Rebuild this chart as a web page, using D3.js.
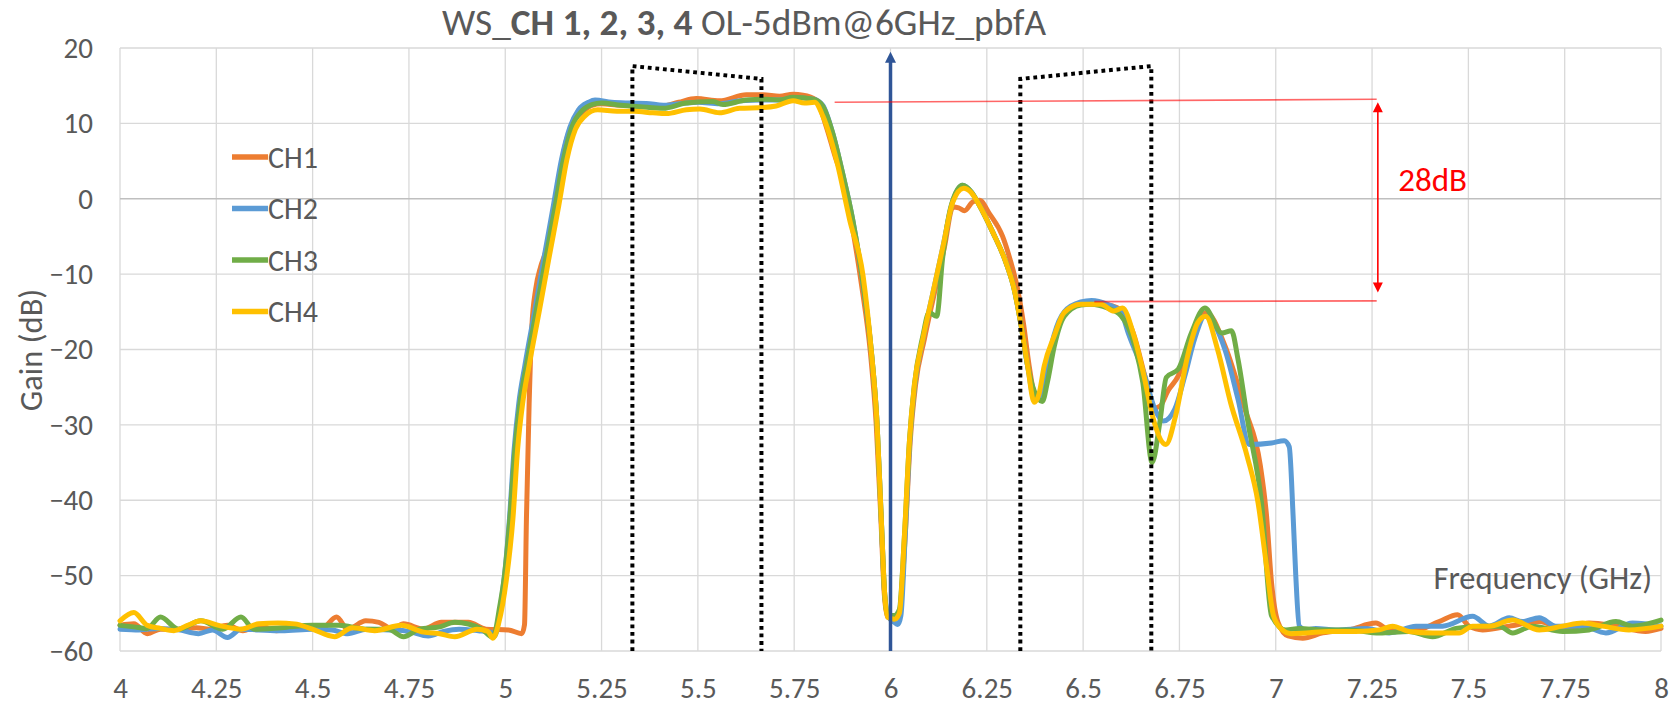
<!DOCTYPE html>
<html>
<head>
<meta charset="utf-8">
<script src="https://cdn.jsdelivr.net/npm/d3@7"></script>
<style>
  body { margin: 0; background: #fff; }
  svg { display: block; font-family: Carlito, Calibri, Lato, sans-serif; }
</style>
</head>
<body>
<svg id="chart"></svg>
<script>
// measured curves, [frequency GHz, gain dB]
var ch1 = [[4.0,-56.6],[4.036,-56.4],[4.071,-57.7],[4.105,-57.1],[4.152,-57.1],[4.198,-56.9],[4.233,-57.1],[4.279,-56.6],[4.319,-57.3],[4.36,-56.6],[4.406,-57.3],[4.476,-56.9],[4.522,-57.1],[4.562,-55.5],[4.591,-57.1],[4.638,-56.0],[4.672,-56.2],[4.707,-57.1],[4.736,-56.4],[4.788,-57.1],[4.834,-56.2],[4.904,-56.2],[4.95,-57.1],[5.008,-57.2],[5.043,-57.7],[5.05,-56.5],[5.055,-42.4],[5.062,-27.2],[5.069,-17],[5.079,-12],[5.092,-9],[5.105,-7],[5.122,-2.5],[5.14,3],[5.16,8],[5.18,10.5],[5.2,11.5],[5.225,12.4],[5.25,12.6],[5.3,12.4],[5.35,12.4],[5.4,12.2],[5.45,12.8],[5.496,13.3],[5.556,13.0],[5.626,13.8],[5.669,13.8],[5.712,13.6],[5.747,13.85],[5.773,13.75],[5.807,13.1],[5.833,9.6],[5.86,5],[5.876,2.8],[5.9,-3.5],[5.925,-11.5],[5.948,-20.5],[5.963,-30],[5.975,-42.4],[5.984,-52.5],[5.993,-55.5],[6.01,-55.8],[6.023,-55],[6.038,-44.9],[6.051,-32.3],[6.065,-24.7],[6.088,-18.6],[6.114,-12.5],[6.14,-6.4],[6.162,-1.1],[6.177,-1.2],[6.192,-1.6],[6.214,-0.4],[6.231,-0.2],[6.257,-2.0],[6.291,-5.0],[6.31,-8],[6.33,-12],[6.345,-16.5],[6.36,-22.2],[6.378,-26.5],[6.39,-26.2],[6.41,-22],[6.428,-18],[6.455,-15],[6.5,-13.9],[6.55,-14.0],[6.598,-14.7],[6.63,-17.8],[6.66,-23.5],[6.682,-27.8],[6.7,-27.5],[6.72,-25.5],[6.747,-23.5],[6.78,-18.7],[6.82,-15.1],[6.868,-19.5],[6.92,-27.9],[6.96,-35.4],[6.976,-42],[6.989,-50.9],[7.006,-56.2],[7.032,-58],[7.07,-58.3],[7.122,-57.6],[7.19,-57.2],[7.26,-56.3],[7.295,-57.2],[7.364,-57.2],[7.424,-56.1],[7.472,-55.2],[7.502,-56.7],[7.537,-57.2],[7.606,-56.7],[7.684,-56.1],[7.753,-57.2],[7.813,-56.3],[7.883,-56.7],[7.96,-57.4],[8.0,-57]];

var ch2 = [[4.0,-57.1],[4.05,-57.2],[4.1,-57.0],[4.152,-57.2],[4.204,-57.7],[4.24,-57.2],[4.279,-58.2],[4.314,-57.1],[4.36,-57.2],[4.42,-57.3],[4.5,-57.1],[4.55,-57.2],[4.591,-57.7],[4.64,-57.1],[4.7,-57.2],[4.75,-57.4],[4.8,-58.0],[4.84,-57.4],[4.88,-57.1],[4.93,-57.3],[4.962,-57.5],[4.973,-58.0],[4.988,-54],[4.998,-50],[5.011,-42.4],[5.023,-33.3],[5.035,-27.2],[5.051,-22.1],[5.076,-15],[5.1,-8],[5.125,-0.9],[5.146,5.2],[5.168,9.5],[5.19,11.8],[5.216,12.8],[5.233,13.1],[5.276,12.8],[5.323,12.7],[5.366,12.65],[5.41,12.4],[5.47,12.7],[5.5,12.8],[5.556,12.6],[5.61,13.0],[5.669,13.1],[5.712,13.1],[5.75,13.4],[5.8,13.2],[5.824,12.4],[5.85,8.7],[5.876,3.3],[5.902,-2.8],[5.928,-11],[5.95,-20.1],[5.965,-29.7],[5.976,-42.4],[5.985,-52.5],[5.995,-55.5],[6.01,-56.2],[6.019,-56.5],[6.027,-55.3],[6.038,-44.9],[6.05,-32.3],[6.063,-24.7],[6.085,-18.4],[6.11,-12.5],[6.136,-6.4],[6.16,-0.6],[6.187,1.8],[6.21,0.9],[6.231,-0.9],[6.265,-4.4],[6.3,-8.5],[6.321,-12],[6.338,-16.5],[6.356,-22.2],[6.373,-26.5],[6.385,-26.4],[6.407,-22],[6.425,-18],[6.451,-15],[6.494,-13.7],[6.522,-13.5],[6.563,-14.0],[6.598,-15],[6.617,-17.8],[6.66,-23.5],[6.686,-27.9],[6.708,-29.5],[6.738,-27.9],[6.764,-23.5],[6.79,-18.5],[6.816,-15.6],[6.868,-20],[6.902,-26.6],[6.931,-32.6],[6.989,-32.4],[7.022,-32.1],[7.035,-32.9],[7.045,-42],[7.052,-50],[7.061,-56.7],[7.078,-57.2],[7.104,-57.0],[7.156,-57.2],[7.234,-57],[7.295,-57.6],[7.364,-56.7],[7.433,-56.7],[7.511,-55.4],[7.554,-56.7],[7.606,-55.6],[7.64,-56.1],[7.684,-55.6],[7.727,-56.7],[7.796,-56.7],[7.857,-57.6],[7.926,-56.3],[8.0,-56.7]];

var ch3 = [[4.0,-56.6],[4.036,-56.8],[4.07,-57.0],[4.105,-55.5],[4.152,-57.1],[4.21,-56.0],[4.267,-57.1],[4.314,-55.5],[4.348,-57.1],[4.42,-56.9],[4.499,-56.6],[4.568,-56.6],[4.638,-57.1],[4.696,-57.1],[4.736,-58.1],[4.777,-57.1],[4.83,-56.8],[4.869,-56.2],[4.939,-57.1],[4.968,-58.2],[4.986,-54],[4.998,-50],[5.012,-42.4],[5.025,-33.3],[5.038,-27.2],[5.055,-22.1],[5.08,-15],[5.105,-8],[5.13,-0.9],[5.151,5.2],[5.173,9.5],[5.2,11.7],[5.225,12.5],[5.25,12.7],[5.3,12.4],[5.35,12.2],[5.41,12.0],[5.47,12.7],[5.539,12.9],[5.565,12.5],[5.626,13.1],[5.678,13.2],[5.712,13.1],[5.747,13.45],[5.8,13.2],[5.824,12.3],[5.85,8.7],[5.876,3.3],[5.902,-2.8],[5.928,-11],[5.95,-20.1],[5.965,-29.7],[5.976,-42.4],[5.985,-52.5],[5.993,-55.2],[6.01,-55.3],[6.023,-54.5],[6.036,-44.9],[6.049,-32.3],[6.062,-24.7],[6.084,-18.2],[6.1,-15.1],[6.12,-15.6],[6.135,-8],[6.157,-1.0],[6.187,1.8],[6.21,0.9],[6.231,-0.9],[6.265,-4.4],[6.3,-8.5],[6.321,-12],[6.338,-16.5],[6.356,-22.2],[6.373,-25.5],[6.394,-26.9],[6.407,-24.4],[6.425,-19.6],[6.451,-15.6],[6.494,-14.1],[6.52,-14.0],[6.563,-14.5],[6.598,-15.5],[6.634,-19.5],[6.655,-24.4],[6.679,-35],[6.699,-29.7],[6.716,-23.7],[6.747,-22.6],[6.781,-17.8],[6.816,-14.5],[6.86,-17.8],[6.885,-17.5],[6.902,-21.3],[6.928,-29.7],[6.963,-40.3],[6.989,-55.3],[7.026,-57.2],[7.061,-57],[7.122,-57.2],[7.19,-57.2],[7.269,-57.6],[7.346,-57.4],[7.407,-58.1],[7.468,-57],[7.537,-56.7],[7.58,-56.7],[7.615,-57.6],[7.666,-56.7],[7.745,-57.4],[7.813,-57.2],[7.883,-56.1],[7.926,-56.7],[8.0,-55.9]];

var ch4 = [[4.0,-56.0],[4.036,-54.9],[4.071,-56.6],[4.105,-57.0],[4.14,-57.3],[4.175,-56.6],[4.21,-56.0],[4.256,-56.6],[4.314,-57.1],[4.36,-56.4],[4.41,-56.3],[4.453,-56.4],[4.499,-57.1],[4.557,-58.1],[4.603,-56.9],[4.661,-57.3],[4.73,-56.6],[4.788,-57.5],[4.83,-57.7],[4.869,-58.1],[4.927,-57.1],[4.955,-57.4],[4.968,-58.3],[4.983,-56.3],[5.003,-50.5],[5.02,-42.4],[5.032,-33.3],[5.045,-27.2],[5.062,-22.1],[5.088,-15],[5.113,-8],[5.139,-0.9],[5.16,5.2],[5.182,9.2],[5.207,11.0],[5.24,11.8],[5.29,11.6],[5.335,11.6],[5.383,11.4],[5.418,11.3],[5.47,11.8],[5.505,11.9],[5.556,11.4],[5.608,12.0],[5.669,12.1],[5.703,12.3],[5.747,13.0],[5.777,12.7],[5.803,12.8],[5.825,10.9],[5.86,5.1],[5.894,-2.8],[5.929,-10.3],[5.95,-20.1],[5.965,-29.7],[5.976,-42.4],[5.985,-52.5],[5.993,-55.5],[6.01,-55.8],[6.023,-55.0],[6.036,-44.9],[6.049,-32.3],[6.062,-24.7],[6.084,-18.6],[6.11,-12.5],[6.136,-6.4],[6.162,-0.4],[6.19,1.4],[6.21,0.8],[6.231,-0.9],[6.265,-4.4],[6.3,-8.5],[6.321,-12],[6.338,-16.5],[6.356,-22.2],[6.373,-27.0],[6.385,-26.0],[6.399,-22.2],[6.425,-18.2],[6.451,-15.1],[6.494,-14.0],[6.546,-14.0],[6.58,-14.9],[6.602,-14.5],[6.632,-18.2],[6.658,-23.5],[6.68,-28.8],[6.715,-32.6],[6.74,-28.8],[6.771,-20.9],[6.797,-16.5],[6.818,-15.6],[6.849,-20],[6.883,-27.1],[6.926,-34.2],[6.954,-40.3],[6.976,-48.7],[6.994,-55.3],[7.015,-57.1],[7.04,-57.7],[7.078,-57.6],[7.139,-57.4],[7.208,-57.4],[7.269,-57.2],[7.303,-56.7],[7.346,-57.4],[7.407,-57.6],[7.476,-57.6],[7.511,-56.7],[7.554,-56.7],[7.615,-55.9],[7.684,-57.2],[7.745,-56.7],[7.796,-56.3],[7.848,-56.7],[7.917,-57.2],[8.0,-56.7]];

var seriesNames = ['CH1', 'CH2', 'CH3', 'CH4'];
var seriesColors = ['#ED7D31', '#5B9BD5', '#70AD47', '#FFC000'];
var xTicks = d3.range(0, 17).map(function(i) { return 4 + i * 0.25; });
var yTicks = d3.range(-60, 21, 10);

// annotations (GHz, dB)
var leftBand = [[5.33, -60], [5.33, 17.6], [5.665, 15.9], [5.665, -60]];
var rightBand = [[6.337, -60], [6.337, 15.9], [6.677, 17.6], [6.677, -60]];
var loMarker = [6.0, -60, 19.5];
var refTop = [[5.855, 12.8], [7.262, 13.2]];
var refBottom = [[6.529, -13.65], [7.262, -13.55]];
var spanArrow = [7.265, 12.8, -12.45];
var spanLabel = [7.318, 1.0, '28dB'];

function createGainChart(w, h) {
  var margin = {top: 48, right: 17, bottom: 56, left: 120},
    width = w - margin.left - margin.right,
    height = h - margin.top - margin.bottom;
  var svg = d3.select('#chart')
    .attr('width', w)
    .attr('height', h);

  var x = d3.scaleLinear().domain([4, 8]).range([0, width]);
  var y = d3.scaleLinear().domain([-60, 20]).range([height, 0]);

  var g = svg.append('g')
    .attr('transform', 'translate(' + margin.left + ',' + margin.top + ')');

  // grid
  g.selectAll('.vgrid').data(xTicks).enter().append('line')
    .attr('x1', function(d) { return x(d); })
    .attr('x2', function(d) { return x(d); })
    .attr('y1', 0).attr('y2', height)
    .attr('stroke', '#d9d9d9').attr('stroke-width', 1.3);
  g.selectAll('.hgrid').data(yTicks).enter().append('line')
    .attr('x1', 0).attr('x2', width)
    .attr('y1', function(d) { return y(d); })
    .attr('y2', function(d) { return y(d); })
    .attr('stroke', function(d) { return d === 0 ? '#bfbfbf' : '#d9d9d9'; })
    .attr('stroke-width', 1.3);

  // axes (labels only)
  var xAxis = d3.axisBottom(x).tickValues(xTicks).tickSize(0).tickPadding(26)
    .tickFormat(function(d) { return String(+d.toFixed(2)); });
  var yAxis = d3.axisLeft(y).tickValues(yTicks).tickSize(0).tickPadding(27);
  g.append('g').attr('transform', 'translate(0,' + height + ')').call(xAxis);
  g.append('g').call(yAxis);
  g.selectAll('.domain').remove();
  g.selectAll('.tick text')
    .attr('fill', '#595959')
    .style('font-size', '29px')
    .style('font-family', 'Carlito, Calibri, Lato, sans-serif');

  // series
  var line = d3.line()
    .x(function(d) { return x(d[0]); })
    .y(function(d) { return y(d[1]); })
    .curve(d3.curveMonotoneX);
  [ch1, ch2, ch3, ch4].forEach(function(s, i) {
    g.append('path')
      .datum(s)
      .attr('fill', 'none')
      .attr('stroke', seriesColors[i])
      .attr('stroke-width', 5)
      .attr('stroke-linejoin', 'round')
      .attr('stroke-linecap', 'round')
      .attr('d', line);
  });

  // dotted band outlines
  var straight = d3.line()
    .x(function(d) { return x(d[0]); })
    .y(function(d) { return y(d[1]); });
  [leftBand, rightBand].forEach(function(b) {
    g.append('path')
      .datum(b)
      .attr('fill', 'none')
      .attr('stroke', '#000')
      .attr('stroke-width', 4)
      .attr('stroke-dasharray', '3.8 3.8')
      .attr('d', straight);
  });

  // LO marker arrow
  var lx = x(loMarker[0]), ly0 = y(loMarker[1]), ly1 = y(loMarker[2]);
  g.append('line')
    .attr('x1', lx).attr('x2', lx)
    .attr('y1', ly0).attr('y2', ly1 + 8)
    .attr('stroke', '#2F5597').attr('stroke-width', 3.5);
  g.append('path')
    .attr('d', 'M' + lx + ',' + ly1 + 'L' + (lx - 5.5) + ',' + (ly1 + 11) + 'L' + (lx + 5.5) + ',' + (ly1 + 11) + 'Z')
    .attr('fill', '#2F5597');

  // reference lines
  [refTop, refBottom].forEach(function(r) {
    g.append('path')
      .datum(r)
      .attr('fill', 'none')
      .attr('stroke', '#FF0000')
      .attr('stroke-opacity', 0.6)
      .attr('stroke-width', 1.6)
      .attr('d', straight);
  });

  // 28 dB span arrow
  var ax = x(spanArrow[0]), ay0 = y(spanArrow[1]), ay1 = y(spanArrow[2]);
  g.append('line')
    .attr('x1', ax).attr('x2', ax)
    .attr('y1', ay0 + 8).attr('y2', ay1 - 8)
    .attr('stroke', '#FF0000').attr('stroke-width', 1.6);
  g.append('path')
    .attr('d', 'M' + ax + ',' + ay0 + 'L' + (ax - 5) + ',' + (ay0 + 10) + 'L' + (ax + 5) + ',' + (ay0 + 10) + 'Z' +
      'M' + ax + ',' + ay1 + 'L' + (ax - 5) + ',' + (ay1 - 10) + 'L' + (ax + 5) + ',' + (ay1 - 10) + 'Z')
    .attr('fill', '#FF0000');
  g.append('text')
    .attr('x', x(spanLabel[0]))
    .attr('y', y(spanLabel[1]))
    .attr('fill', '#FF0000')
    .style('font-size', '33px')
    .text(spanLabel[2]);

  // legend
  var legend = svg.append('g').attr('transform', 'translate(232,157)');
  seriesNames.forEach(function(n, i) {
    legend.append('line')
      .attr('x1', 0).attr('x2', 36)
      .attr('y1', i * 51.5).attr('y2', i * 51.5)
      .attr('stroke', seriesColors[i]).attr('stroke-width', 5.5);
    legend.append('text')
      .attr('x', 36).attr('y', i * 51.5)
      .attr('dy', '0.35em')
      .attr('fill', '#595959')
      .style('font-size', '30px')
      .text(n);
  });

  // titles
  var title = svg.append('text')
    .attr('x', 442).attr('y', 35)
    .attr('textLength', 604)
    .attr('lengthAdjust', 'spacingAndGlyphs')
    .attr('fill', '#595959')
    .style('font-size', '36px');
  title.append('tspan').text('WS_');
  title.append('tspan').attr('font-weight', 'bold').text('CH 1, 2, 3, 4');
  title.append('tspan').text(' OL-5dBm@6GHz_pbfA');

  svg.append('text')
    .attr('x', 1652).attr('y', 589)
    .attr('text-anchor', 'end')
    .attr('fill', '#595959')
    .style('font-size', '32.5px')
    .text('Frequency (GHz)');

  svg.append('text')
    .attr('transform', 'translate(42,350) rotate(-90)')
    .attr('text-anchor', 'middle')
    .attr('fill', '#595959')
    .style('font-size', '32.5px')
    .text('Gain (dB)');
}

createGainChart(1678, 707);
</script>
</body>
</html>
